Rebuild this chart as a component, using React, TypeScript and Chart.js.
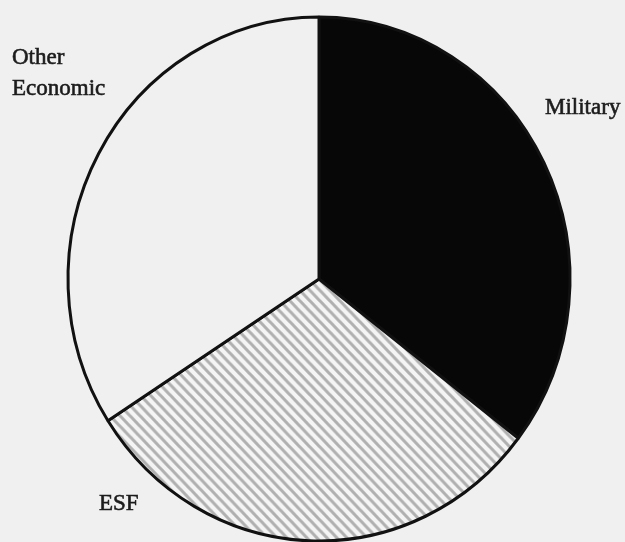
import React, { useEffect, useRef } from "react";
import { Chart, registerables } from "chart.js";

Chart.register(...registerables);

// ---- data ----
const categories = ["Military", "ESF", "Other Economic"];
const shares = [35.4, 30.5, 34.1];
const labelLines = [["Military"], ["ESF"], ["Other", "Economic"]];

// ---- layout / style (not data) ----
const W = 625;
const H = 542;
const PAGE_BG = "#f0f0f0";
const RADIUS = 251;
const Y_STRETCH = 262 / 251;
const LABEL_POS = [
  { x: 545, y: 114 },
  { x: 99, y: 510 },
  { x: 12, y: 64 },
];
const LINE_GAP = 31;

function makeHatch(): CanvasPattern | string {
  const c = document.createElement("canvas");
  c.width = 10;
  c.height = 10;
  const g = c.getContext("2d");
  if (!g) return "#dddddd";
  g.fillStyle = "#f4f4f4";
  g.fillRect(0, 0, 10, 10);
  g.strokeStyle = "#b0b0b0";
  g.lineWidth = 3;
  g.beginPath();
  g.moveTo(-2, -2);
  g.lineTo(12, 12);
  g.moveTo(-2, 8);
  g.lineTo(2, 12);
  g.moveTo(8, -2);
  g.lineTo(12, 2);
  g.stroke();
  const p = g.createPattern(c, "repeat");
  return p || "#dddddd";
}

const ellipsePlugin = {
  id: "ellipseStretch",
  beforeDatasetsDraw(chart: any) {
    const arc = chart.getDatasetMeta(0).data[0];
    const ctx = chart.ctx;
    ctx.save();
    if (arc) {
      ctx.translate(arc.x, arc.y);
      ctx.scale(1, Y_STRETCH);
      ctx.translate(-arc.x, -arc.y);
    }
  },
  afterDatasetsDraw(chart: any) {
    chart.ctx.restore();
  },
};

const labelPlugin = {
  id: "sliceLabels",
  afterDraw(chart: any) {
    const ctx = chart.ctx;
    ctx.save();
    ctx.font = '23px "Liberation Serif", "Times New Roman", serif';
    ctx.fillStyle = "#1c1c1c";
    ctx.strokeStyle = "#1c1c1c";
    ctx.lineWidth = 0.6;
    ctx.textAlign = "left";
    ctx.textBaseline = "alphabetic";
    labelLines.forEach((lines, i) => {
      const pos = LABEL_POS[i];
      lines.forEach((t, j) => {
        ctx.fillText(t, pos.x, pos.y + j * LINE_GAP);
        ctx.strokeText(t, pos.x, pos.y + j * LINE_GAP);
      });
    });
    ctx.restore();
  },
};

export default function App() {
  const ref = useRef<HTMLCanvasElement | null>(null);

  useEffect(() => {
    if (!ref.current) return;
    const hatch = makeHatch();
    const chart = new Chart(ref.current, {
      type: "pie",
      data: {
        labels: categories,
        datasets: [
          {
            data: shares,
            backgroundColor: ["#070707", hatch as any, PAGE_BG],
            borderColor: "#111111",
            borderWidth: 3,
            hoverOffset: 0,
            clip: false as any,
          },
        ],
      },
      options: {
        responsive: false,
        animation: false,
        devicePixelRatio: 1,
        radius: RADIUS,
        layout: { padding: { left: 20, right: 7, top: 20, bottom: 4 } },
        plugins: {
          legend: { display: false },
          tooltip: { enabled: false },
          title: { display: false },
        },
      } as any,
      plugins: [ellipsePlugin, labelPlugin],
    });
    return () => chart.destroy();
  }, []);

  return (
    <div
      style={{
        position: "fixed",
        left: 0,
        top: 0,
        width: W,
        height: H,
        background: PAGE_BG,
      }}
    >
      <canvas ref={ref} width={W} height={H} style={{ display: "block" }} />
    </div>
  );
}
